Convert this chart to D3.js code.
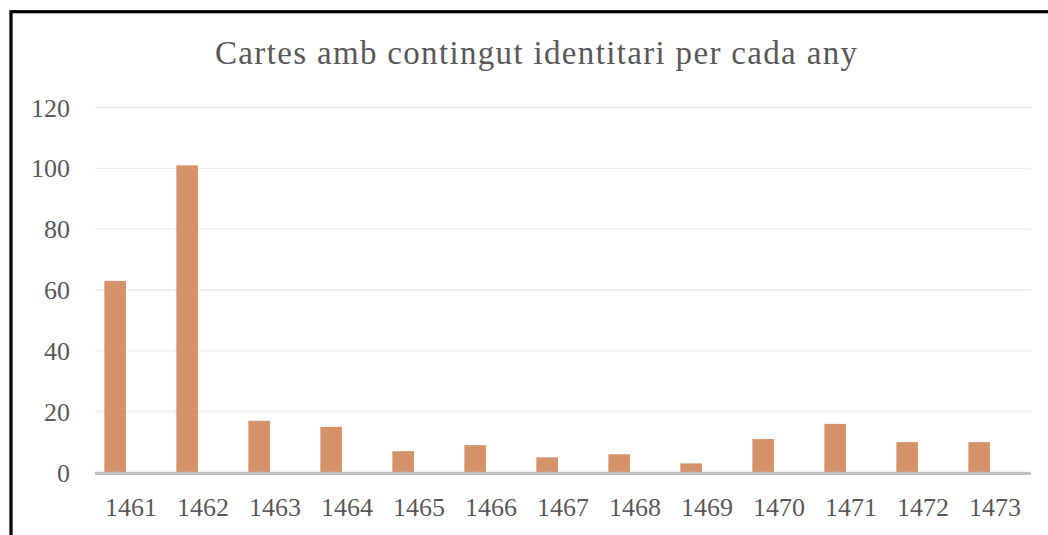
<!DOCTYPE html>
<html>
<head>
<meta charset="utf-8" />
<title>Cartes amb contingut identitari per cada any</title>
<script src="https://d3js.org/d3.v7.min.js"></script>
<style>
body{
    margin:0;
    background:#fff;
}
.axeTexte{
    fill:#595959;
    font-family:"Liberation Serif", serif;
    font-size:26px;
}
</style>
</head>
<body>
<div id="graphe"></div>
<script>

// données
var annees = ["1461","1462","1463","1464","1465","1466","1467","1468","1469","1470","1471","1472","1473"];
var cartes = [63, 101, 17, 15, 7, 9, 5, 6, 3, 11, 16, 10, 10];
var ticksY = [0, 20, 40, 60, 80, 100, 120];
var titre = "Cartes amb contingut identitari per cada any";

var largeur = 1048, hauteur = 535;
var margin = {top: 107.5, right: 17, bottom: 62.5, left: 95};

var svg = d3.select("#graphe").append("svg")
    .attr("width", largeur)
    .attr("height", hauteur);

// cadre noir (coupé à droite et en bas)
svg.append("rect")
    .attr("x", 11)
    .attr("y", 11.7)
    .attr("width", largeur + 20)
    .attr("height", hauteur + 20)
    .attr("fill", "none")
    .attr("stroke", "#000")
    .attr("stroke-width", 3.2);

var x = d3.scaleBand()
    .domain(annees)
    .range([margin.left, largeur - margin.right]);

var y = d3.scaleLinear()
    .domain([0, 120])
    .range([hauteur - margin.bottom, margin.top]);

// grille
svg.append("g")
    .selectAll("line")
    .data(ticksY.filter(function(d){ return d > 0; }))
    .enter().append("line")
    .attr("x1", margin.left)
    .attr("x2", largeur - margin.right)
    .attr("y1", function(d){ return y(d); })
    .attr("y2", function(d){ return y(d); })
    .attr("stroke", "#ebebeb")
    .attr("stroke-width", 1.3);

// barres (décalées à gauche comme dans l'original)
var largeurBarre = x.bandwidth() * 0.3;
var decalage = x.bandwidth() * 0.22;
svg.append("g")
    .selectAll("rect")
    .data(cartes)
    .enter().append("rect")
    .attr("x", function(d, i){ return x(annees[i]) + x.bandwidth() / 2 - decalage - largeurBarre / 2; })
    .attr("y", function(d){ return y(d); })
    .attr("width", largeurBarre)
    .attr("height", function(d){ return y(0) - y(d); })
    .attr("fill", "#d6936a");

// axe horizontal
svg.append("line")
    .attr("x1", margin.left)
    .attr("x2", largeur - margin.right)
    .attr("y1", y(0) + 0.8)
    .attr("y2", y(0) + 0.8)
    .attr("stroke", "#bfbfbf")
    .attr("stroke-width", 3.2);

// étiquettes Y
svg.append("g")
    .selectAll("text")
    .data(ticksY)
    .enter().append("text")
    .attr("class", "axeTexte")
    .attr("x", 70)
    .attr("y", function(d){ return y(d) + 9; })
    .attr("text-anchor", "end")
    .text(function(d){ return d; });

// étiquettes X
svg.append("g")
    .selectAll("text")
    .data(annees)
    .enter().append("text")
    .attr("class", "axeTexte")
    .attr("x", function(d){ return x(d) + x.bandwidth() / 2; })
    .attr("y", 516)
    .attr("text-anchor", "middle")
    .text(function(d){ return d; });

// titre
svg.append("text")
    .attr("x", 536)
    .attr("y", 63.5)
    .attr("text-anchor", "middle")
    .attr("fill", "#595959")
    .style("font-family", "\"Liberation Serif\", serif")
    .style("font-size", "33px")
    .attr("textLength", 642)
    .attr("lengthAdjust", "spacing")
    .text(titre);

</script>
</body>
</html>
